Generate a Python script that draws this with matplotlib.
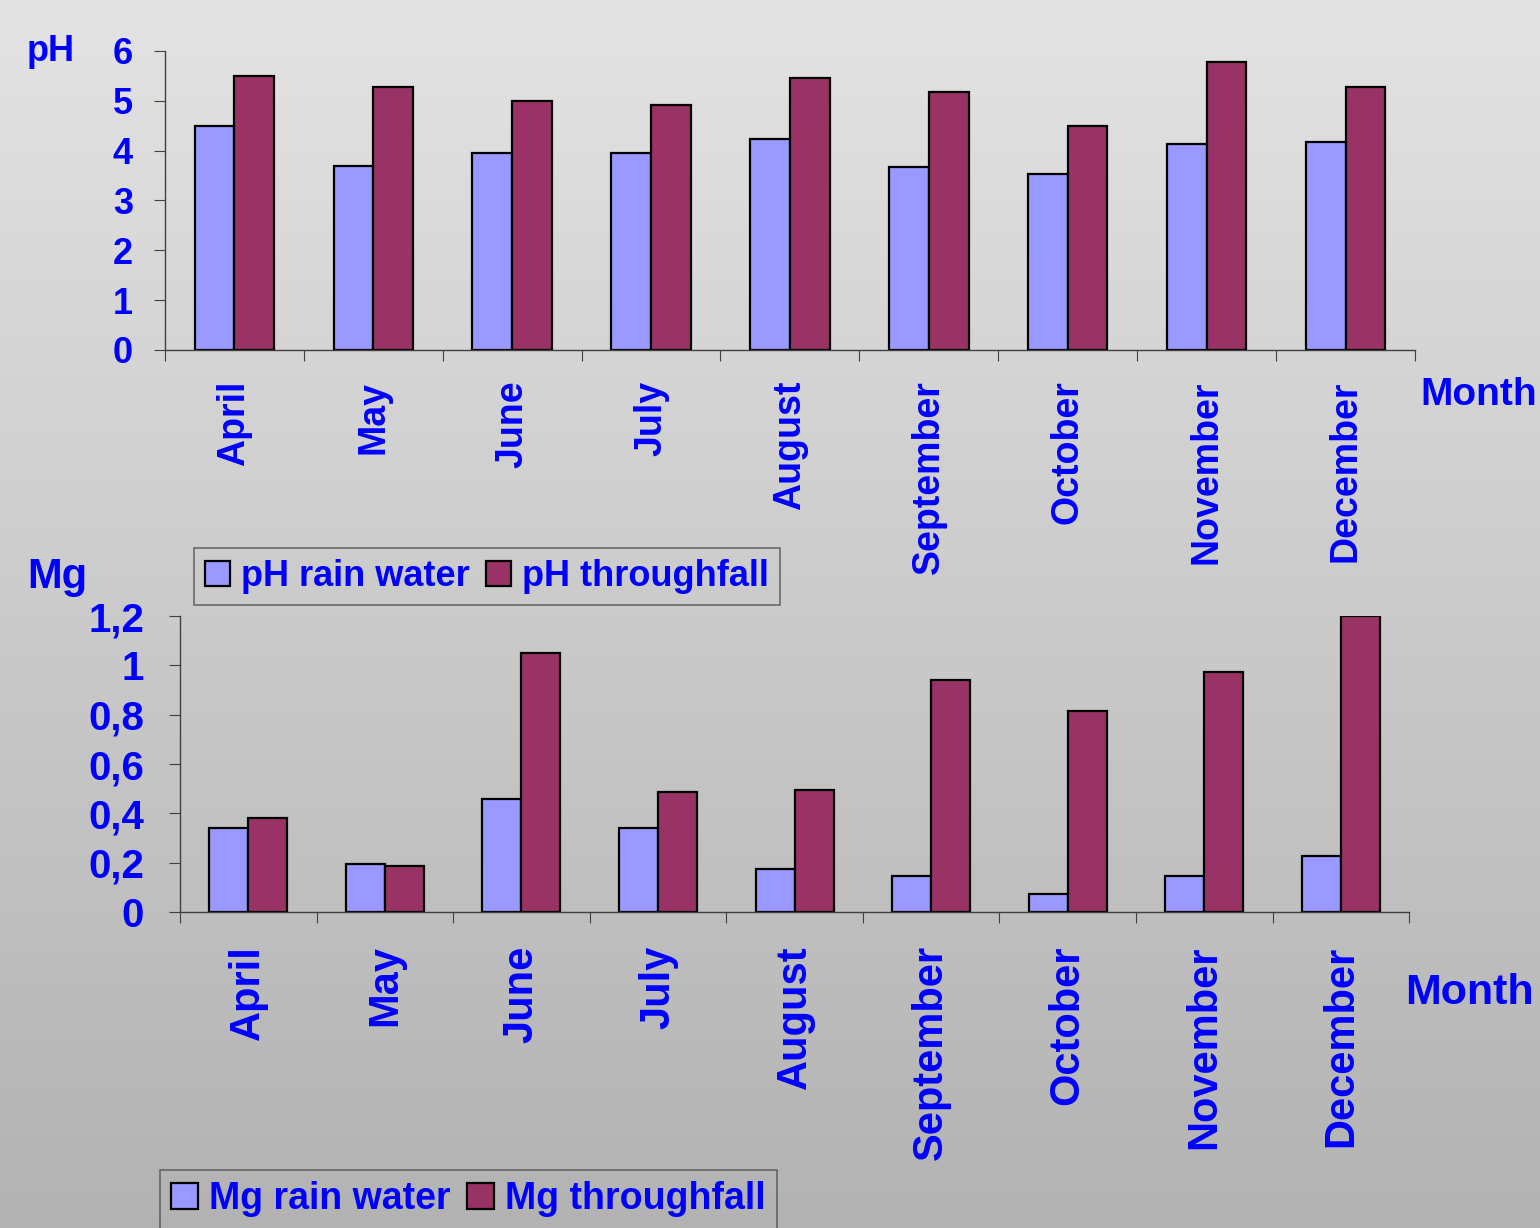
import numpy as np
import matplotlib
matplotlib.use("Agg")
import matplotlib.pyplot as plt
from matplotlib.transforms import ScaledTranslation

# Data
months = ["April", "May", "June", "July", "August",
          "September", "October", "November", "December"]
ph_rain = [4.5, 3.7, 3.95, 3.95, 4.23, 3.68, 3.54, 4.13, 4.18]
ph_through = [5.5, 5.28, 5.0, 4.92, 5.46, 5.18, 4.49, 5.77, 5.27]
mg_rain = [0.34, 0.195, 0.46, 0.34, 0.176, 0.146, 0.073, 0.146, 0.228]
mg_through = [0.38, 0.186, 1.05, 0.486, 0.496, 0.94, 0.816, 0.973, 1.2]
ph_ticks = [0, 1, 2, 3, 4, 5, 6]
mg_ticks = [0, 0.2, 0.4, 0.6, 0.8, 1.0, 1.2]
mg_tick_labels = ["0", "0,2", "0,4", "0,6", "0,8", "1", "1,2"]

BLUE = "#0000FF"
C_RAIN = "#9999FF"
C_THRU = "#993366"
FONT = "Liberation Sans"

plt.rcParams["font.family"] = [FONT, "DejaVu Sans"]
plt.rcParams["font.weight"] = "bold"

fig = plt.figure(figsize=(15.4, 12.28), dpi=100)

# grey background, lighter at the top
bg = fig.add_axes([0, 0, 1, 1], zorder=-10)
shade = np.linspace(0.89, 0.70, 256)[:, None, None] * np.ones((1, 2, 3))
bg.imshow(shade, aspect="auto", extent=[0, 1, 0, 1], origin="upper")
bg.set_axis_off()


def bar_panel(ax, rain, thru, ticks, ticklabels, ylabel_size, month_size, ypad, xpad):
    x = np.arange(len(months))
    w = 0.286
    ax.bar(x - w / 2, rain, w, color=C_RAIN, edgecolor="black", linewidth=1.6)
    ax.bar(x + w / 2, thru, w, color=C_THRU, edgecolor="black", linewidth=1.6)
    ax.set_xlim(-0.5, len(months) - 0.5)
    ax.set_ylim(ticks[0], ticks[-1])
    ax.set_facecolor("none")
    for s in ["top", "right"]:
        ax.spines[s].set_visible(False)
    for s in ["left", "bottom"]:
        ax.spines[s].set_color("#404040")
        ax.spines[s].set_linewidth(1.0)
    # category boundaries carry the tick marks, centres carry the labels
    ax.set_xticks(np.arange(len(months) + 1) - 0.5)
    ax.set_xticklabels([])
    ax.set_xticks(x, minor=True)
    labels = ax.set_xticklabels(months, minor=True, rotation=90, color=BLUE,
                                fontsize=month_size, fontweight="bold", va="top")
    shift = ScaledTranslation(5 / 100, 0, fig.dpi_scale_trans)
    for lab in labels:
        lab.set_transform(lab.get_transform() + shift)
    ax.tick_params(axis="x", which="major", direction="out", length=8,
                   color="#404040")
    ax.tick_params(axis="x", which="minor", length=0, pad=xpad)
    ax.set_yticks(ticks)
    ax.set_yticklabels(ticklabels, color=BLUE, fontsize=ylabel_size,
                       fontweight="bold")
    ax.tick_params(axis="y", direction="out", length=8, color="#404040",
                   pad=ypad)


ax1 = fig.add_axes([0.1071, 0.7150, 0.8117, 0.2435])
bar_panel(ax1, ph_rain, ph_through, ph_ticks, [str(t) for t in ph_ticks],
          26, 27, 15, 22)
ax2 = fig.add_axes([0.1169, 0.2573, 0.7981, 0.2410])
bar_panel(ax2, mg_rain, mg_through, mg_ticks, mg_tick_labels,
          29, 30, 18, 24)

# axis captions
fig.text(0.033, 0.958, "pH", color=BLUE, fontsize=26, fontweight="bold",
         ha="center", va="center")
fig.text(0.037, 0.530, "Mg", color=BLUE, fontsize=30, fontweight="bold",
         ha="center", va="center")
fig.text(0.998, 0.678, "Month", color=BLUE, fontsize=28, fontweight="bold",
         ha="right", va="center")
fig.text(0.996, 0.191, "Month", color=BLUE, fontsize=31, fontweight="bold",
         ha="right", va="center")

# legends
leg_kw = dict(ncol=2, frameon=True, fancybox=False, borderaxespad=0,
              handlelength=0.7, handleheight=0.7, handletextpad=0.3,
              columnspacing=0.45, borderpad=0.3, labelcolor=BLUE)
h1 = ax1.patches[0], ax1.patches[len(months)]
leg1 = fig.legend(h1, ["pH rain water", "pH throughfall"], loc="upper left",
                  bbox_to_anchor=(0.126, 0.5537),
                  prop={"family": FONT, "weight": "bold", "size": 26}, **leg_kw)
h2 = ax2.patches[0], ax2.patches[len(months)]
leg2 = fig.legend(h2, ["Mg rain water", "Mg throughfall"], loc="upper left",
                  bbox_to_anchor=(0.1039, 0.0472),
                  prop={"family": FONT, "weight": "bold", "size": 27}, **leg_kw)
for leg in (leg1, leg2):
    fr = leg.get_frame()
    fr.set_facecolor("none")
    fr.set_edgecolor("#505050")
    fr.set_linewidth(1.2)

fig.savefig("out.png", dpi=100)
